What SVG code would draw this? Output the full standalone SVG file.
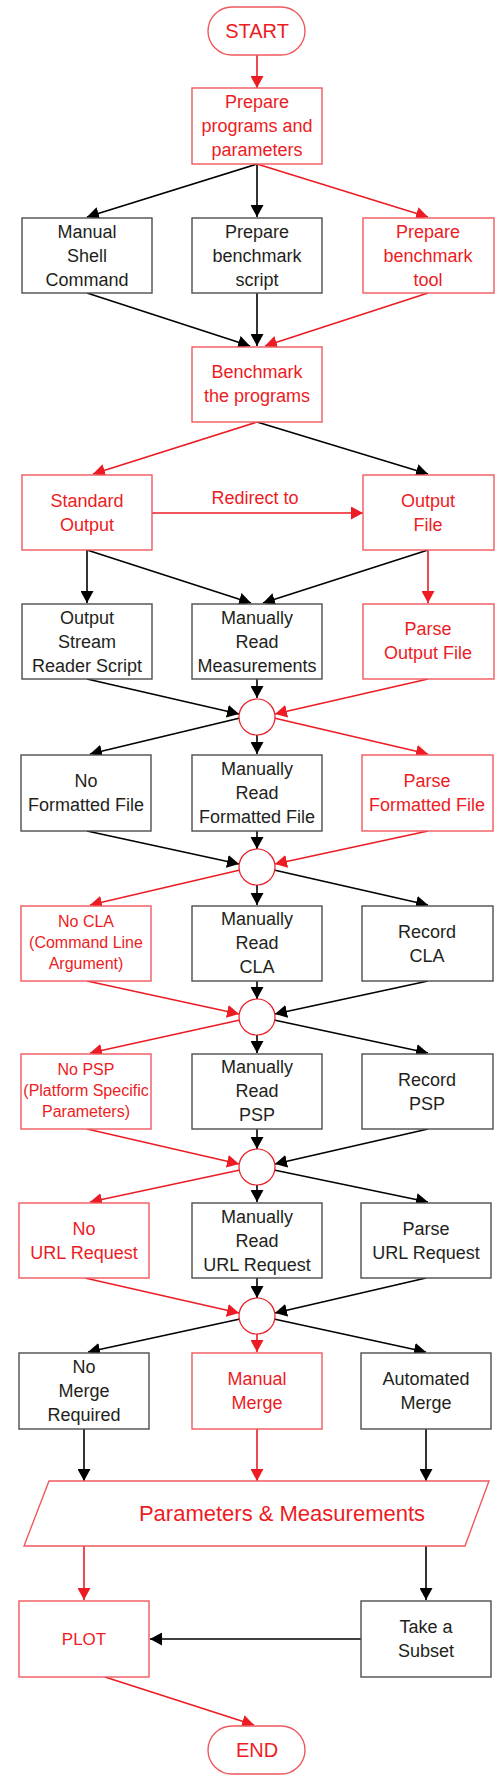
<svg xmlns="http://www.w3.org/2000/svg" width="504" height="1780" viewBox="0 0 504 1780">
<style>
text{font-family:"Liberation Sans",Arial,sans-serif;font-size:18px;text-anchor:middle}
.t{fill:#231f20}
.r{fill:#ed1c24}
.bk{fill:#fff;stroke:#4d4d4d;stroke-width:1.4}
.br{fill:#fff;stroke:#f0585e;stroke-width:1.4}
.lk{stroke:#000;stroke-width:1.6;fill:none;marker-end:url(#ak)}
.lr{stroke:#ed1c24;stroke-width:1.6;fill:none;marker-end:url(#ar)}
.s16{font-size:16px}
</style>
<defs>
<marker id="ak" markerUnits="userSpaceOnUse" markerWidth="13" markerHeight="13" refX="12" refY="6.5" orient="auto"><path d="M0,0 L12,6.5 L0,13 z" fill="#000"/></marker>
<marker id="ar" markerUnits="userSpaceOnUse" markerWidth="13" markerHeight="13" refX="12" refY="6.5" orient="auto"><path d="M0,0 L12,6.5 L0,13 z" fill="#ed1c24"/></marker>
</defs>
<rect width="504" height="1780" fill="#fff"/>
<g id="connectors">
<line class="lr" x1="257" y1="55" x2="257" y2="88"/>
<line class="lk" x1="257" y1="164" x2="87" y2="217"/>
<line class="lk" x1="257" y1="164" x2="257" y2="217"/>
<line class="lr" x1="257" y1="164" x2="428" y2="217"/>
<line class="lk" x1="87" y1="293" x2="250" y2="346"/>
<line class="lk" x1="257" y1="293" x2="257" y2="346"/>
<line class="lr" x1="428" y1="293" x2="265" y2="346"/>
<line class="lr" x1="257" y1="422" x2="93" y2="474"/>
<line class="lk" x1="257" y1="422" x2="428" y2="474"/>
<line class="lr" x1="152" y1="513" x2="363" y2="513"/>
<line class="lk" x1="87" y1="550" x2="87" y2="603"/>
<line class="lk" x1="87" y1="550" x2="251" y2="603"/>
<line class="lk" x1="428" y1="550" x2="263" y2="603"/>
<line class="lr" x1="428" y1="550" x2="428" y2="603"/>
<line class="lk" x1="87" y1="679" x2="239" y2="714"/>
<line class="lk" x1="257" y1="679" x2="257" y2="698"/>
<line class="lr" x1="428" y1="679" x2="275" y2="714"/>
<line class="lk" x1="240" y1="718" x2="90" y2="754"/>
<line class="lk" x1="257" y1="735" x2="257" y2="754"/>
<line class="lr" x1="274" y1="718" x2="428" y2="754"/>
<line class="lk" x1="87" y1="831" x2="239" y2="864"/>
<line class="lk" x1="257" y1="831" x2="257" y2="849"/>
<line class="lr" x1="428" y1="831" x2="275" y2="864"/>
<line class="lr" x1="240" y1="870" x2="90" y2="905"/>
<line class="lk" x1="257" y1="885" x2="257" y2="905"/>
<line class="lk" x1="274" y1="870" x2="428" y2="905"/>
<line class="lr" x1="87" y1="981" x2="239" y2="1014"/>
<line class="lk" x1="257" y1="981" x2="257" y2="999"/>
<line class="lk" x1="428" y1="981" x2="275" y2="1014"/>
<line class="lr" x1="240" y1="1020" x2="90" y2="1053"/>
<line class="lk" x1="257" y1="1035" x2="257" y2="1053"/>
<line class="lk" x1="274" y1="1020" x2="428" y2="1053"/>
<line class="lr" x1="87" y1="1129" x2="239" y2="1164"/>
<line class="lk" x1="257" y1="1129" x2="257" y2="1149"/>
<line class="lk" x1="428" y1="1129" x2="275" y2="1164"/>
<line class="lr" x1="240" y1="1170" x2="90" y2="1202"/>
<line class="lk" x1="257" y1="1185" x2="257" y2="1202"/>
<line class="lk" x1="274" y1="1170" x2="428" y2="1202"/>
<line class="lr" x1="85" y1="1278" x2="239" y2="1313"/>
<line class="lk" x1="257" y1="1278" x2="257" y2="1298"/>
<line class="lk" x1="426" y1="1278" x2="275" y2="1313"/>
<line class="lk" x1="240" y1="1319" x2="88" y2="1352"/>
<line class="lr" x1="257" y1="1334" x2="257" y2="1352"/>
<line class="lk" x1="274" y1="1319" x2="426" y2="1352"/>
<line class="lk" x1="84" y1="1429" x2="84" y2="1481"/>
<line class="lr" x1="257" y1="1429" x2="257" y2="1481"/>
<line class="lk" x1="426" y1="1429" x2="426" y2="1481"/>
<line class="lr" x1="84" y1="1546" x2="84" y2="1600"/>
<line class="lk" x1="426" y1="1546" x2="426" y2="1600"/>
<line class="lk" x1="361" y1="1639" x2="150" y2="1639"/>
<line class="lr" x1="105" y1="1677" x2="254" y2="1725"/>
<text class="r" x="255" y="504">Redirect to</text>
</g>
<g id="start"><rect class="br" x="208" y="7" width="97" height="48" rx="24"/><text class="r" x="257" y="38" style="font-size:20px">START</text></g>
<g id="prepare"><rect class="br" x="192" y="88" width="130" height="76"/><text class="r" x="257" y="108">Prepare<tspan x="257" dy="24">programs and</tspan><tspan x="257" dy="24">parameters</tspan></text></g>
<g id="manual-shell"><rect class="bk" x="22" y="218" width="130" height="75"/><text class="t" x="87" y="238">Manual<tspan x="87" dy="24">Shell</tspan><tspan x="87" dy="24">Command</tspan></text></g>
<g id="bench-script"><rect class="bk" x="192" y="218" width="130" height="75"/><text class="t" x="257" y="238">Prepare<tspan x="257" dy="24">benchmark</tspan><tspan x="257" dy="24">script</tspan></text></g>
<g id="bench-tool"><rect class="br" x="363" y="218" width="131" height="75"/><text class="r" x="428" y="238">Prepare<tspan x="428" dy="24">benchmark</tspan><tspan x="428" dy="24">tool</tspan></text></g>
<g id="benchmark"><rect class="br" x="192" y="347" width="130" height="75"/><text class="r" x="257" y="378">Benchmark<tspan x="257" dy="24">the programs</tspan></text></g>
<g id="std-out"><rect class="br" x="22" y="475" width="130" height="75"/><text class="r" x="87" y="507">Standard<tspan x="87" dy="24">Output</tspan></text></g>
<g id="out-file"><rect class="br" x="363" y="475" width="131" height="75"/><text class="r" x="428" y="507">Output<tspan x="428" dy="24">File</tspan></text></g>
<g id="stream-reader"><rect class="bk" x="22" y="604" width="130" height="75"/><text class="t" x="87" y="624">Output<tspan x="87" dy="24">Stream</tspan><tspan x="87" dy="24">Reader Script</tspan></text></g>
<g id="read-meas"><rect class="bk" x="192" y="604" width="130" height="75"/><text class="t" x="257" y="624">Manually<tspan x="257" dy="24">Read</tspan><tspan x="257" dy="24">Measurements</tspan></text></g>
<g id="parse-out"><rect class="br" x="363" y="604" width="131" height="75"/><text class="r" x="428" y="635">Parse<tspan x="428" dy="24">Output File</tspan></text></g>
<g id="junction1"><circle cx="257" cy="717" r="18" fill="#fff" stroke="#ed1c24" stroke-width="1.2"/></g>
<g id="no-fmt"><rect class="bk" x="21" y="755" width="130" height="76"/><text class="t" x="86" y="787">No<tspan x="86" dy="24">Formatted File</tspan></text></g>
<g id="read-fmt"><rect class="bk" x="192" y="755" width="130" height="76"/><text class="t" x="257" y="775">Manually<tspan x="257" dy="24">Read</tspan><tspan x="257" dy="24">Formatted File</tspan></text></g>
<g id="parse-fmt"><rect class="br" x="362" y="755" width="131" height="76"/><text class="r" x="427" y="787">Parse<tspan x="427" dy="24">Formatted File</tspan></text></g>
<g id="junction2"><circle cx="257" cy="867" r="18" fill="#fff" stroke="#ed1c24" stroke-width="1.2"/></g>
<g id="no-cla"><rect class="br" x="21" y="906" width="130" height="75"/><text class="r s16" x="86" y="927">No CLA<tspan x="86" dy="21">(Command Line</tspan><tspan x="86" dy="21">Argument)</tspan></text></g>
<g id="read-cla"><rect class="bk" x="192" y="906" width="130" height="75"/><text class="t" x="257" y="925">Manually<tspan x="257" dy="24">Read</tspan><tspan x="257" dy="24">CLA</tspan></text></g>
<g id="record-cla"><rect class="bk" x="362" y="906" width="131" height="75"/><text class="t" x="427" y="938">Record<tspan x="427" dy="24">CLA</tspan></text></g>
<g id="junction3"><circle cx="257" cy="1017" r="18" fill="#fff" stroke="#ed1c24" stroke-width="1.2"/></g>
<g id="no-psp"><rect class="br" x="21" y="1054" width="130" height="75"/><text class="r s16" x="86" y="1075">No PSP<tspan x="86" dy="21">(Platform Specific</tspan><tspan x="86" dy="21">Parameters)</tspan></text></g>
<g id="read-psp"><rect class="bk" x="192" y="1054" width="130" height="75"/><text class="t" x="257" y="1073">Manually<tspan x="257" dy="24">Read</tspan><tspan x="257" dy="24">PSP</tspan></text></g>
<g id="record-psp"><rect class="bk" x="362" y="1054" width="131" height="75"/><text class="t" x="427" y="1086">Record<tspan x="427" dy="24">PSP</tspan></text></g>
<g id="junction4"><circle cx="257" cy="1167" r="18" fill="#fff" stroke="#ed1c24" stroke-width="1.2"/></g>
<g id="no-url"><rect class="br" x="19" y="1203" width="130" height="75"/><text class="r" x="84" y="1235">No<tspan x="84" dy="24">URL Request</tspan></text></g>
<g id="read-url"><rect class="bk" x="192" y="1203" width="130" height="75"/><text class="t" x="257" y="1223">Manually<tspan x="257" dy="24">Read</tspan><tspan x="257" dy="24">URL Request</tspan></text></g>
<g id="parse-url"><rect class="bk" x="361" y="1203" width="130" height="75"/><text class="t" x="426" y="1235">Parse<tspan x="426" dy="24">URL Request</tspan></text></g>
<g id="junction5"><circle cx="257" cy="1316" r="18" fill="#fff" stroke="#ed1c24" stroke-width="1.2"/></g>
<g id="no-merge"><rect class="bk" x="19" y="1353" width="130" height="76"/><text class="t" x="84" y="1373">No<tspan x="84" dy="24">Merge</tspan><tspan x="84" dy="24">Required</tspan></text></g>
<g id="manual-merge"><rect class="br" x="192" y="1353" width="130" height="76"/><text class="r" x="257" y="1385">Manual<tspan x="257" dy="24">Merge</tspan></text></g>
<g id="auto-merge"><rect class="bk" x="361" y="1353" width="130" height="76"/><text class="t" x="426" y="1385">Automated<tspan x="426" dy="24">Merge</tspan></text></g>
<g id="params-meas"><polygon points="49,1481 489,1481 465,1546 24,1546" fill="#fff" stroke="#f0585e" stroke-width="1.4"/><text class="r" x="282" y="1521" style="font-size:22px">Parameters &amp; Measurements</text></g>
<g id="plot"><rect class="br" x="19" y="1601" width="130" height="76"/><text class="r" x="84" y="1645" style="font-size:17px">PLOT</text></g>
<g id="subset"><rect class="bk" x="361" y="1601" width="130" height="76"/><text class="t" x="426" y="1633">Take a<tspan x="426" dy="24">Subset</tspan></text></g>
<g id="end"><rect class="br" x="208" y="1726" width="97" height="48" rx="24"/><text class="r" x="257" y="1757" style="font-size:20px">END</text></g>
</svg>
